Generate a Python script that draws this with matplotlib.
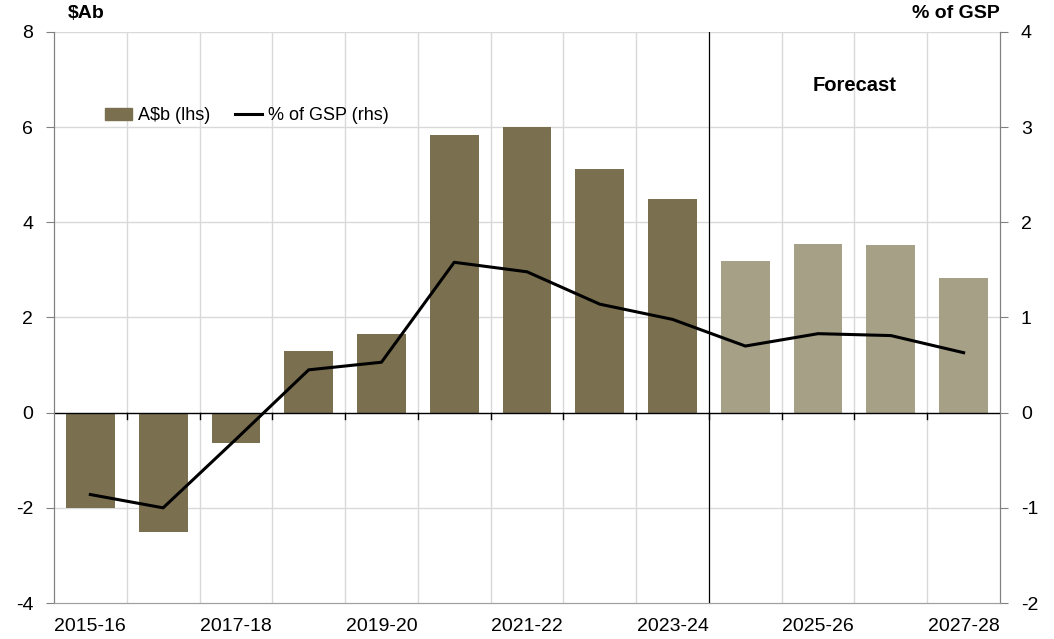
import matplotlib
matplotlib.use("Agg")
import matplotlib.pyplot as plt
import numpy as np
from matplotlib.patches import Patch
from matplotlib.lines import Line2D

plt.rcParams['font.family'] = ['Liberation Sans', 'DejaVu Sans']
plt.rcParams['axes.unicode_minus'] = False

years = ["2015-16", "2016-17", "2017-18", "2018-19", "2019-20", "2020-21", "2021-22",
         "2022-23", "2023-24", "2024-25", "2025-26", "2026-27", "2027-28"]
abn = [-2.0, -2.5, -0.63, 1.29, 1.65, 5.83, 6.0, 5.11, 4.48, 3.18, 3.54, 3.52, 2.82]
pct_gsp = [-0.86, -1.0, -0.28, 0.45, 0.53, 1.58, 1.48, 1.14, 0.98, 0.70, 0.83, 0.81, 0.63]
n_actual = 9  # first forecast year is 2024-25

dark = "#7a7050"
light = "#a6a087"
grid_c = "#d9d9d9"

fig = plt.figure(figsize=(10.54, 6.39), dpi=100)
ax = fig.add_axes([0.0512, 0.0563, 0.8976, 0.8937])
ax2 = ax.twinx()

x = np.arange(len(years))
colors = [dark if i < n_actual else light for i in range(len(years))]
ax.bar(x, abn, width=0.67, color=colors, zorder=2)

ax.set_xlim(-0.5, len(years) - 0.5)
ax.set_ylim(-4, 8)
ax.set_yticks(np.arange(-4, 9, 2))
ax2.set_ylim(-2, 4)
ax2.set_yticks(np.arange(-2, 5, 1))

# gridlines
for yv in np.arange(-2, 9, 2):
    if yv != 0:
        ax.axhline(yv, color=grid_c, lw=1, zorder=0)
for b in np.arange(0.5, len(years) - 0.5, 1):
    if b != n_actual - 0.5:
        ax.axvline(b, color=grid_c, lw=1, zorder=0)
ax.axhline(0, color="black", lw=1, zorder=3)
ax.axvline(n_actual - 0.5, color="black", lw=0.9, zorder=3)

# small ticks on the zero line at category boundaries
for b in np.arange(0.5, len(years) - 0.5, 1):
    ax.plot([b, b], [0, -0.13], color="black", lw=1, zorder=3)

ax2.plot(x, pct_gsp, color="black", lw=2.2, zorder=4)

ax.set_xticks(x[::2])
ax.set_xticklabels(years[::2])
ax.tick_params(axis='x', length=0, labelsize=14, pad=11)
ax.tick_params(axis='y', direction='out', length=6, color="#808080", labelsize=14, pad=9)
ax2.tick_params(axis='y', direction='out', length=6, color="#808080", labelsize=14, pad=9)

for a in (ax, ax2):
    a.spines['top'].set_visible(False)
    a.spines['left'].set_color("#808080")
    a.spines['right'].set_color("#808080")
    a.spines['bottom'].set_color("#a0a0a0")

fig.text(0.0645, 1 - 14 / 639, "$Ab", fontsize=14, fontweight='bold', ha='left', va='center')
fig.text(0.9488, 1 - 14 / 639, "% of GSP", fontsize=14, fontweight='bold', ha='right', va='center')
ax.text(10.5, 6.88, "Forecast", fontsize=14.5, fontweight='bold', ha='center', va='center')

handles = [Patch(color=dark, label="A$b (lhs)"),
           Line2D([0], [0], color="black", lw=2.2, label="% of GSP (rhs)")]
ax.legend(handles=handles, loc='center left', bbox_to_anchor=(0.054, 0.853), ncol=2,
          frameon=False, fontsize=13, handlelength=1.5, handletextpad=0.3,
          columnspacing=1.4, borderaxespad=0, borderpad=0)

fig.savefig("out.png", dpi=100, facecolor="white")
